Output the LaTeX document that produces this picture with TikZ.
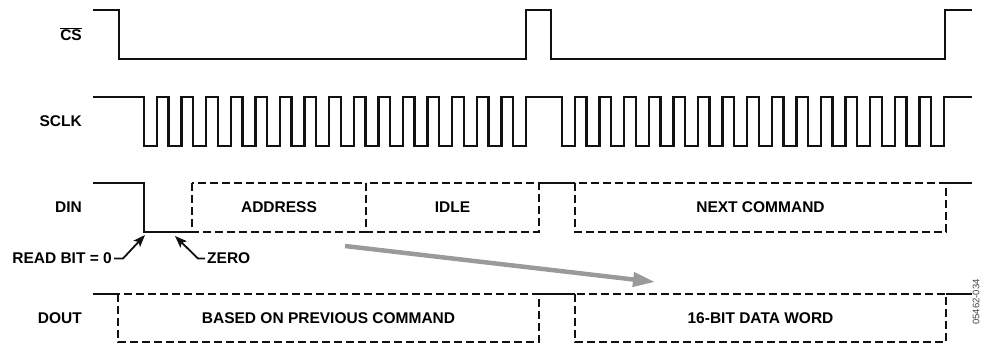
\documentclass[tikz,border=0pt]{standalone}
\usepackage{fontspec}
\setmainfont{Liberation Sans}
\usetikzlibrary{arrows.meta,positioning,calc}
\definecolor{Ink}{HTML}{111111}
\definecolor{Hint}{HTML}{9A9A9A}
\definecolor{Muted}{HTML}{444444}
\tikzset{
 wave/.style={draw=Ink,line width=2.5pt},
 bus/.style={wave,dash pattern=on 8pt off 4pt},
 sig/.style={anchor=east,inner sep=0pt,font=\fontsize{15.5}{18}\selectfont\bfseries},
 field/.style={inner sep=0pt,font=\fontsize{15.5}{18}\selectfont\bfseries},
 note/.style={inner sep=2pt,font=\fontsize{15.5}{18}\selectfont\bfseries},
 tip/.style={-{Stealth[length=12pt,width=9pt,inset=2.5pt]},line width=1.8pt,draw=Ink},
 hint/.style={-{Triangle[length=22pt,width=14pt]},line width=4.5pt,draw=Hint}
}
\begin{document}
\begin{tikzpicture}[x=1pt,y=-1pt]
\useasboundingbox (0,0) rectangle (984,346);
\foreach \y/\name/\lbl in {34/cs/{$\overline{\mbox{CS}}$},121/sclk/SCLK,207.5/din/DIN,318.5/dout/DOUT} {
 \node[sig] (\name) at (82,\y) {\lbl};
}
\draw[wave] (93,10) -| (119,59) -| (526,10) -| (551,59) -| (945,10) -- (972,10);
\draw[wave] (93,97) foreach \s in {144,562} {foreach \k in {0,...,15} {-| ({\s+24.6*\k},146) -| ({\s+13+24.6*\k},97)}} -- (972,97);
\draw[wave] (93,183) -| (144,232) -- (192,232);
\draw[wave] (539,183) -- (575,183) (946,183) -- (972,183);
\foreach \n/\l/\r/\t in {addr/192/366/ADDRESS,idle/366/539/IDLE,next/575/946/NEXT COMMAND} {
 \draw[bus] (\l,183) rectangle (\r,232);
 \node[field] (\n) at ({(\l+\r)/2},207.5) {\t};
}
\draw[wave] (93,294) -- (118,294) (539,294) -- (575,294) (946,294) -- (972,294);
\foreach \n/\l/\r/\t in {prev/118/539/BASED ON PREVIOUS COMMAND,data/575/946/16-BIT DATA WORD} {
 \draw[bus] (\l,294) rectangle (\r,342);
 \node[field] (\n) at ({(\l+\r)/2},318.5) {\t};
}
\node[note,anchor=east] (rdbit) at (114,258.5) {READ BIT = 0};
\node[note,anchor=west] (zero) at (205,258.5) {ZERO};
\coordinate (rdtip) at (145,235);
\coordinate (zerotip) at (175,236);
\draw[tip] (rdbit.east) -- ++(9,0) -- (rdtip);
\draw[tip] (zero.west) -- ++(-7,0) -- (zerotip);
\coordinate (hstart) at (345,246);
\coordinate (hend) at (655,282);
\draw[hint] (hstart) -- (hend);
\node[rotate=90,inner sep=0pt,text=Muted,font=\fontsize{9.5}{10}\selectfont] (code) at (976,302) {05462-034};
\end{tikzpicture}
\end{document}
